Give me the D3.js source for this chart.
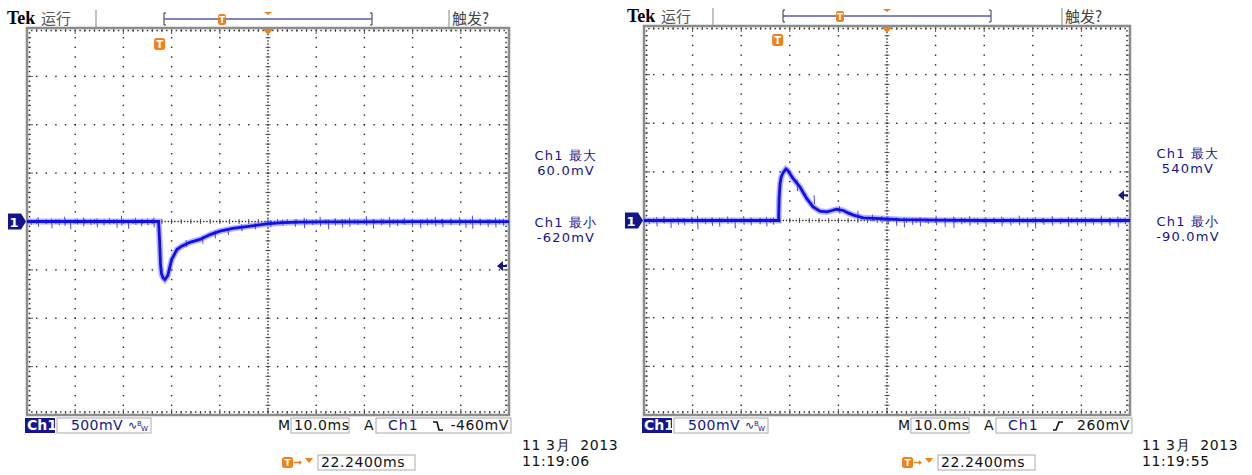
<!DOCTYPE html>
<html>
<head>
<meta charset="utf-8">
<script src="https://cdn.jsdelivr.net/npm/d3@7/dist/d3.min.js"></script>
<style>
body { margin: 0; background: #fff; }
text { font-family: "DejaVu Sans", sans-serif; }
</style>
</head>
<body>
<div id="chart"></div>
<script>
// ---- data (time in ms across 10 div x 10 ms, volts in mV) ----
var leftTime = [0, 10, 20, 27.3, 27.5, 27.7, 27.9, 28.2, 28.6, 29.2, 30.0, 31.1, 32.1, 33.8, 35.9, 38.0, 40.0, 42.7, 46.3, 49.7, 53.1, 56.6, 62, 70, 80, 90, 100];
var leftVolt = [0, 0, 0, 0, -190, -440, -540, -580, -600, -560, -395, -290, -255, -215, -185, -135, -100, -72, -48, -25, -12, -7, -4, -3, -2, -2, -2];

var rightTime = [0, 10, 20, 27.7, 27.8, 28.0, 28.2, 28.6, 29.2, 29.6, 30.7, 32.1, 33.5, 34.8, 36.2, 37.6, 38.5, 39.6, 41.0, 42.0, 43.1, 45.1, 48.6, 52.7, 60, 70, 80, 90, 100];
var rightVolt = [0, 0, 0, 0, 230, 380, 440, 490, 530, 515, 430, 345, 225, 140, 95, 88, 100, 116, 103, 78, 55, 28, 20, 10, 3, 0, 0, 0, 0];

// noise spikes: time, top, bottom (mV)
var leftSpikeTime = [0.8, 2.3, 3.9, 5.1, 6.6, 7.8, 9.0, 10.4, 11.7, 13.2, 14.5, 15.9, 17.1, 18.6, 19.6, 21.0, 22.5, 23.7, 25.0, 26.3, 33.0, 36.4, 39.0, 41.7, 44.5, 47.3, 50.5, 53.0, 55.6, 57.5, 59.2, 60.8, 62.5, 63.9, 65.4, 66.9, 68.6, 70.4, 71.8, 73.5, 75.2, 76.8, 78.3, 79.9, 81.6, 83.0, 84.7, 86.2, 87.9, 89.7, 91.0, 92.4, 94.0, 95.6, 97.2, 98.8];
var leftSpikeHi = [20, 45, 15, 30, 25, 50, 18, 28, 40, 22, 32, 15, 35, 26, 60, 20, 38, 24, 30, 42, -190, -150, -95, -75, -30, -15, 15, 20, 25, 40, 18, 50, 22, 35, 28, 40, 20, 55, 25, 30, 45, 22, 38, 28, 20, 35, 48, 26, 32, 45, 20, 60, 30, 24, 40, 28];
var leftSpikeLo = [-35, -55, -28, -70, -40, -45, -80, -30, -50, -38, -60, -42, -30, -65, -45, -75, -35, -50, -40, -60, -260, -230, -175, -140, -100, -80, -60, -45, -55, -70, -38, -50, -80, -42, -60, -55, -35, -45, -75, -40, -60, -48, -35, -55, -70, -42, -50, -60, -38, -45, -65, -75, -40, -55, -60, -45];

var rightSpikeTime = [1.0, 2.6, 4.1, 5.5, 7.0, 8.3, 9.8, 11.0, 12.6, 14.0, 15.5, 17.2, 18.7, 20.5, 22.0, 23.8, 25.2, 26.6, 31.5, 35.0, 40.2, 44.0, 47.0, 48.9, 50.2, 51.9, 53.5, 55.2, 56.8, 58.4, 60.1, 61.9, 63.7, 65.3, 67.0, 68.6, 70.3, 72.0, 73.6, 75.4, 77.2, 78.9, 80.5, 82.2, 84.0, 85.6, 87.3, 89.1, 90.8, 92.4, 94.1, 95.8, 97.5, 99.0];
var rightSpikeHi = [20, 35, 45, 18, 30, 25, 40, 50, 22, 35, 28, 40, 20, 45, 30, 24, 38, 30, 420, 260, 150, 100, 60, 45, 40, 30, 35, 25, 35, 20, 50, 26, 40, 30, 45, 22, 35, 28, 40, 24, 50, 30, 35, 26, 45, 20, 40, 32, 35, 24, 50, 28, 40, 30];
var rightSpikeLo = [-40, -60, -30, -75, -45, -50, -35, -90, -40, -55, -65, -35, -80, -45, -50, -40, -60, -45, 300, 170, 70, 30, -10, -30, -40, -55, -70, -45, -60, -35, -50, -65, -75, -40, -55, -45, -65, -35, -60, -50, -50, -70, -80, -45, -55, -40, -65, -50, -60, -45, -50, -55, -70, -40];

var chLabel = "Ch1";
var voltsPerDiv = ["500mV", "500mV"];
var timePerDiv = ["10.0ms", "10.0ms"];
var trigLevel = [-460, 260];
var trigLevelText = ["-460mV", "260mV"];
var trigSlope = ["fall", "rise"];
var measMax = ["60.0mV", "540mV"];
var measMin = ["-620mV", "-90.0mV"];
var trigPos = ["22.2400ms", "22.2400ms"];
var dateText = ["11 3月  2013", "11 3月  2013"];
var timeText = ["11:19:06", "11:19:55"];

var navy = "#14148c";
var orange = "#f0801e";

var svg = d3.select("#chart").append("svg")
    .attr("width", 1252).attr("height", 475)
    .style("background", "#fff");

function orangeT(g, x, y, w, h) {
    g.append("rect").attr("x", x).attr("y", y).attr("width", w).attr("height", h)
        .attr("rx", 2.5).attr("fill", orange);
    g.append("text").attr("x", x + w / 2).attr("y", y + h - 2.5)
        .attr("text-anchor", "middle").attr("fill", "#fff")
        .attr("font-size", h - 2).attr("font-weight", "bold").text("T");
}

function downTri(g, cx, y, w, h) {
    g.append("path").attr("d", "M" + (cx - w / 2) + "," + y + "h" + w + "l" + (-w / 2) + "," + h + "z")
        .attr("fill", orange);
}

function drawGrid(g, p) {
    var w = p.x1 - p.x0, h = p.y1 - p.y0, dx = w / 10, dy = h / 8;
    var cx = p.x0 + 5 * dx, cy = p.y0 + 4 * dy;
    var dots = [], ticks = [], i, j;

    for (i = 1; i < 10; i++) {
        if (i === 5) continue;
        for (j = 1; j < 40; j++) dots.push([p.x0 + i * dx, p.y0 + j * dy / 5]);
    }
    for (j = 1; j < 8; j++) {
        if (j === 4) continue;
        for (i = 1; i < 50; i++) dots.push([p.x0 + i * dx / 5, p.y0 + j * dy]);
    }
    for (i = 1; i < 150; i++) dots.push([p.x0 + i * dx / 15, cy]);
    for (j = 1; j < 120; j++) dots.push([cx, p.y0 + j * dy / 15]);
    // edge dots
    for (i = 1; i < 100; i++) {
        dots.push([p.x0 + i * dx / 10, p.y0 + 2.5]);
        dots.push([p.x0 + i * dx / 10, p.y1 - 3]);
    }
    for (j = 1; j < 80; j++) {
        dots.push([p.x0 + 2.5, p.y0 + j * dy / 10]);
        dots.push([p.x1 - 3, p.y0 + j * dy / 10]);
    }
    // ticks on centre lines and edges
    for (i = 1; i < 50; i++) {
        var tx = p.x0 + i * dx / 5;
        ticks.push([tx, cy - 2.5, tx, cy + 2.5]);
        ticks.push([tx, p.y0 + 1, tx, p.y0 + (i % 5 === 0 ? 6 : 4)]);
        ticks.push([tx, p.y1 - 1, tx, p.y1 - (i % 5 === 0 ? 6 : 4)]);
    }
    for (j = 1; j < 40; j++) {
        var ty = p.y0 + j * dy / 5;
        ticks.push([cx - 2.5, ty, cx + 2.5, ty]);
        ticks.push([p.x0 + 1, ty, p.x0 + (j % 5 === 0 ? 6 : 4), ty]);
        ticks.push([p.x1 - 1, ty, p.x1 - (j % 5 === 0 ? 6 : 4), ty]);
    }

    g.append("g").selectAll("rect").data(dots).enter().append("rect")
        .attr("x", function(d) { return d[0] - 0.7; })
        .attr("y", function(d) { return d[1] - 0.7; })
        .attr("width", 1.4).attr("height", 1.4)
        .attr("fill", "#222");
    g.append("g").selectAll("line").data(ticks).enter().append("line")
        .attr("x1", function(d) { return d[0]; }).attr("y1", function(d) { return d[1]; })
        .attr("x2", function(d) { return d[2]; }).attr("y2", function(d) { return d[3]; })
        .attr("stroke", "#444").attr("stroke-width", 0.9);
    g.append("rect").attr("x", p.x0).attr("y", p.y0).attr("width", w).attr("height", h)
        .attr("fill", "none").attr("stroke", "#8c8c8c").attr("stroke-width", 2.5);
}

function drawScope(p, k) {
    var g = svg.append("g");
    var x = d3.scaleLinear().domain([0, 100]).range([p.x0, p.x1]);
    var y = d3.scaleLinear().domain([-2000, 2000]).range([p.y1, p.y0]);

    drawGrid(g, p);

    // header
    g.append("text").attr("x", p.hx).attr("y", p.hy)
        .style("font-family", "'Liberation Serif', serif").attr("font-weight", "bold")
        .attr("font-size", 18).attr("fill", "#000").text("Tek");
    g.append("text").attr("x", p.hx + 34).attr("y", p.hy)
        .style("font-family", "'Noto Sans CJK SC', sans-serif")
        .attr("font-size", 15).attr("fill", "#555").text("运行");
    g.append("line").attr("x1", p.sep1).attr("x2", p.sep1).attr("y1", p.hy - 14).attr("y2", p.hy + 3)
        .attr("stroke", "#999").attr("stroke-width", 1.2);
    g.append("line").attr("x1", p.sep2).attr("x2", p.sep2).attr("y1", p.hy - 14).attr("y2", p.hy + 3)
        .attr("stroke", "#999").attr("stroke-width", 1.2);
    g.append("text").attr("x", p.sep2 + 3).attr("y", p.hy)
        .style("font-family", "'Noto Sans CJK SC', sans-serif")
        .attr("font-size", 15).attr("fill", "#444").text("触发?");

    // record bracket
    var bg = g.append("g");
    bg.append("path").attr("d", "M" + (p.b0 + 2) + "," + (p.by - 6) + "h-2v12h2M" + (p.b1 - 2) + "," + (p.by - 6) + "h2v12h-2")
        .attr("fill", "none").attr("stroke", "#333").attr("stroke-width", 1);
    bg.append("line").attr("x1", p.b0).attr("x2", p.b1).attr("y1", p.by).attr("y2", p.by)
        .attr("stroke", "#5858b4").attr("stroke-width", 1.6);
    orangeT(bg, p.bt - 4, p.by - 5, 8, 11);
    downTri(bg, x(50), p.by - 7, 8, 3);

    // trigger markers on graticule
    downTri(g, x(50), p.y0 + 1, 11, 6);
    orangeT(g, x(27.5) - 5.5, p.y0 + p.tOff, 11, 12);

    // waveform
    var pts = d3.zip(p.time, p.volt);
    var line = d3.line().x(function(d) { return x(d[0]); }).y(function(d) { return y(d[1]); });
    g.append("path").datum(pts).attr("d", line)
        .attr("fill", "none").attr("stroke", "#6c6cff").attr("stroke-width", 6).attr("opacity", 0.5);
    var spikes = d3.zip(p.spT, p.spHi, p.spLo);
    g.append("g").selectAll("line").data(spikes).enter().append("line")
        .attr("x1", function(d) { return x(d[0]); }).attr("x2", function(d) { return x(d[0]) + 0.5; })
        .attr("y1", function(d) { return y(d[1]); }).attr("y2", function(d) { return y(d[2]); })
        .attr("stroke", "#4646f4").attr("stroke-width", 1);
    g.append("path").datum(pts).attr("d", line)
        .attr("fill", "none").attr("stroke", "#1010e6").attr("stroke-width", 2.8);

    // channel marker
    var my = y(0);
    g.append("path").attr("d", "M" + (p.x0 - 19) + "," + (my - 8) + "h13l5,8l-5,8h-13z").attr("fill", navy);
    g.append("text").attr("x", p.x0 - 13).attr("y", my + 5).attr("text-anchor", "middle")
        .attr("font-size", 13).attr("font-weight", "bold").attr("fill", "#fff").text("1");

    // trigger level arrow
    var ty = y(trigLevel[k]);
    g.append("path").attr("d", "M" + (p.x1 - 12) + "," + ty + "l6,-5v10z").attr("fill", navy);
    g.append("line").attr("x1", p.x1 - 7).attr("x2", p.x1 - 2).attr("y1", ty).attr("y2", ty)
        .attr("stroke", navy).attr("stroke-width", 2);

    // measurements
    var mt = g.append("g").attr("fill", navy).attr("font-size", 13)
        .attr("text-anchor", "middle").style("letter-spacing", "1.2px");
    mt.append("text").attr("x", p.mx).attr("y", p.my1).text(chLabel + " 最大");
    mt.append("text").attr("x", p.mx).attr("y", p.my1 + 15).text(measMax[k]);
    mt.append("text").attr("x", p.mx).attr("y", p.my2).text(chLabel + " 最小");
    mt.append("text").attr("x", p.mx).attr("y", p.my2 + 15).text(measMin[k]);

    // bottom status line
    var by = 418, bh = 15, base = by + 12;
    g.append("rect").attr("x", p.x0 - 2).attr("y", by).attr("width", 30).attr("height", bh).attr("fill", navy);
    g.append("text").attr("x", p.x0).attr("y", base).attr("fill", "#fff")
        .attr("font-size", 14).attr("font-weight", "bold").text(chLabel);
    g.append("rect").attr("x", p.x0 + 30).attr("y", by).attr("width", 94).attr("height", bh)
        .attr("fill", "#fff").attr("stroke", "#aaa");
    g.append("text").attr("x", p.x0 + 44).attr("y", base).attr("fill", navy)
        .attr("font-size", 14).style("letter-spacing", "0.4px").text(voltsPerDiv[k]);
    g.append("text").attr("x", p.x0 + 101).attr("y", base - 1).attr("fill", navy)
        .attr("font-size", 11).text("∿");
    g.append("text").attr("x", p.x0 + 110).attr("y", base - 4).attr("fill", navy)
        .attr("font-size", 7).text("B");
    g.append("text").attr("x", p.x0 + 114).attr("y", base + 1).attr("fill", navy)
        .attr("font-size", 7).text("W");

    g.append("text").attr("x", p.mX).attr("y", base).attr("fill", "#111")
        .attr("font-size", 14).text("M");
    g.append("rect").attr("x", p.mX + 13).attr("y", by).attr("width", 58).attr("height", bh)
        .attr("fill", "#fff").attr("stroke", "#aaa");
    g.append("text").attr("x", p.mX + 16).attr("y", base).attr("fill", "#111")
        .attr("font-size", 14).style("letter-spacing", "0.6px").text(timePerDiv[k]);

    g.append("text").attr("x", p.mX + 86).attr("y", base).attr("fill", "#111")
        .attr("font-size", 14).text("A");
    g.append("rect").attr("x", p.mX + 98).attr("y", by).attr("width", p.x1 + 2 - (p.mX + 98)).attr("height", bh)
        .attr("fill", "#fff").attr("stroke", "#aaa");
    g.append("text").attr("x", p.mX + 110).attr("y", base).attr("fill", navy)
        .attr("font-size", 14).style("letter-spacing", "1px").text(chLabel);
    var sx = p.mX + 155;
    var slope = trigSlope[k] === "fall" ? "M" + sx + "," + (by + 4) + "h4l2,8h4" : "M" + sx + "," + (by + 12) + "h3l3,-8h4";
    g.append("path").attr("d", slope).attr("fill", "none").attr("stroke", "#111").attr("stroke-width", 1.6);
    g.append("text").attr("x", p.x1).attr("y", base).attr("text-anchor", "end").attr("fill", "#111")
        .attr("font-size", 14).style("letter-spacing", "0.6px").text(trigLevelText[k]);

    // trigger position row
    var ry = 455;
    orangeT(g, p.mX + 4, ry + 2, 11, 11);
    g.append("path").attr("d", "M" + (p.mX + 16) + "," + (ry + 7.5) + "h6").attr("stroke", orange).attr("stroke-width", 1.5);
    g.append("path").attr("d", "M" + (p.mX + 21) + "," + (ry + 5) + "l3,2.5l-3,2.5z").attr("fill", orange);
    downTri(g, p.mX + 31, ry + 3, 8, 5);
    g.append("rect").attr("x", p.mX + 40).attr("y", ry).attr("width", 97).attr("height", bh)
        .attr("fill", "#fff").attr("stroke", "#aaa");
    g.append("text").attr("x", p.mX + 43).attr("y", ry + 12).attr("fill", "#111")
        .attr("font-size", 14).style("letter-spacing", "0.6px").text(trigPos[k]);

    g.append("text").attr("x", p.dx).attr("y", 450).attr("fill", "#111")
        .attr("font-size", 14).style("letter-spacing", "0.6px").attr("xml:space", "preserve").text(dateText[k]);
    g.append("text").attr("x", p.dx).attr("y", 466).attr("fill", "#111")
        .attr("font-size", 14).style("letter-spacing", "0.6px").text(timeText[k]);
}

drawScope({
    x0: 27, x1: 509, y0: 28, y1: 415,
    hx: 7, hy: 24, sep1: 96, sep2: 449, b0: 164, b1: 372, by: 19, bt: 222, tOff: 10,
    mx: 566, my1: 160, my2: 227, mX: 278, dx: 522,
    time: leftTime, volt: leftVolt, spT: leftSpikeTime, spHi: leftSpikeHi, spLo: leftSpikeLo
}, 0);

drawScope({
    x0: 644, x1: 1130, y0: 26, y1: 415,
    hx: 627, hy: 22, sep1: 713, sep2: 1062, b0: 783, b1: 991, by: 16, bt: 840, tOff: 8,
    mx: 1188, my1: 158, my2: 226, mX: 898, dx: 1142,
    time: rightTime, volt: rightVolt, spT: rightSpikeTime, spHi: rightSpikeHi, spLo: rightSpikeLo
}, 1);
</script>
</body>
</html>
